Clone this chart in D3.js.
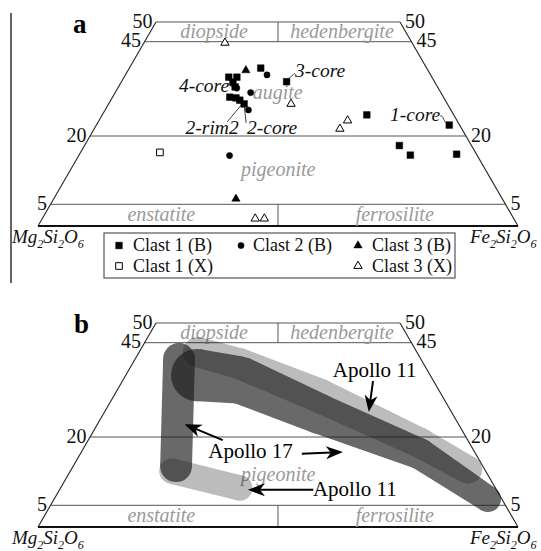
<!DOCTYPE html>
<html><head><meta charset="utf-8">
<script src="https://cdn.jsdelivr.net/npm/d3@7"></script>
<style>
body{margin:0;background:#fff}
svg{display:block}
text{font-family:"Liberation Serif","Times New Roman",serif}
</style>
</head><body>
<svg id="chart" width="541" height="551"></svg>
<script>
// ================= DATA (compositions in mol%: [Wo, Fs], En = 100-Wo-Fs) =================
const woLevels      = [0, 5, 20, 45, 50];
const boundaryWo    = [5, 20, 45, 50];
const tickLabels    = ["5", "20", "45", "50"];
const dividerBands  = [[45, 50], [0, 5]];

const mineralNames  = ["diopside", "hedenbergite", "enstatite", "ferrosilite"];
const mineralWo     = [47.5, 47.5, 2.5, 2.5];
const mineralFs     = [13.1, 39.4, 24.4, 73.1];
const innerNames    = ["augite", "pigeonite"];
const innerWo       = [31.5, 12.5];
const innerFs       = [34.2, 43.8];

const clast1B = [[35.6,21.9],[35.6,23.6],[34.3,23.4],[33.0,24.5],[30.3,24.7],[30.1,26.1],[29.5,27.2],[28.5,28.6],
                 [38.0,27.4],[34.4,34.6],[25.6,56.0],[22.9,74.9],[17.9,66.8],[15.8,70.1],[16.0,79.8]];
const clast2B = [[32.7,25.0],[31.5,28.5],[26.9,30.3],[36.2,29.6],[15.7,31.9]];
const clast3B = [[37.4,24.6],[6.2,38.1]];
const clast1X = [[16.4,16.8]];
const clast3X = [[44.7,16.7],[28.5,38.5],[21.9,52.2],[24.1,52.7],[1.7,44.4],[1.7,46.3]];

const legendLabels = ["Clast 1 (B)", "Clast 2 (B)", "Clast 3 (B)", "Clast 1 (X)", "Clast 3 (X)"];

const coreNames = ["4-core", "2-rim2", "2-core", "3-core", "1-core"];
const corePts   = [[33.0,24.5],[28.5,28.6],[28.5,28.6],[34.4,34.6],[22.9,74.9]];

// panel b fields: centre line [Wo, Fs, half-spread in Wo mol%]
const apollo11Upper = [[42.5,12.2,3.7],[39.4,22.4,3.8],[30.9,43.4,4.2],[18.7,70.8,3.7],[12.8,83.7,3.4]];
const apollo11Lower = [[12.5,21.4,3.1],[8.8,37.6,3.1]];
const apollo17Vert  = [[40.7,9.1,3.9],[13.6,21.7,3.9]];
const apollo17Diag  = [[36.4,14.9,6.4],[35.1,24.5,5.8],[26.1,45.8,4.9],[16.3,71.9,3.8],[6.4,90.7,3.2]];

const apolloTexts   = ["Apollo 11", "Apollo 17", "Apollo 11"];
const apolloTextAt  = [[35.9,43.5],[15.3,27.6],[7.0,53.8]];
const arrowFrom     = [[34.8,52.5],[19.3,28.6],[16.3,46.9],[8.4,53.2]];
const arrowTo       = [[26.6,55.9],[23.4,18.5],[16.7,55.4],[8.4,39.5]];

// ================= LAYOUT =================
const yPix = [226, 204.3, 136, 41.7, 22];
const X0 = 38, X1 = 518, TL = 156, TR = 400;
const GREY = "#9a9a9a";
const svg = d3.select("#chart");

function makePanel(dy){
  const y = d3.scaleLinear().domain(woLevels).range(yPix.map(v => v + dy));
  const base = y(0), top = y(50);
  const xl = d3.scaleLinear().domain([base, top]).range([X0, TL]);
  const xr = d3.scaleLinear().domain([base, top]).range([X1, TR]);
  const proj = (wo, fs) => { const py = y(wo), a = xl(py), b = xr(py); return [a + fs / (100 - wo) * (b - a), py]; };
  return {y, proj, dy};
}
const spreadPx = d3.scaleLinear().domain([0, 50]).range([0, 204]);

function drawFrame(P, g, withAugite, innerOffset){
  const line = (a, b, stroke, w) => g.append("line")
    .attr("x1", a[0]).attr("y1", a[1]).attr("x2", b[0]).attr("y2", b[1])
    .attr("stroke", stroke).attr("stroke-width", w);
  boundaryWo.forEach(w => line(P.proj(w, 0), P.proj(w, 100 - w), "#555", 1));
  dividerBands.forEach(([w0, w1]) => line(P.proj(w0, (100 - w0) / 2), P.proj(w1, (100 - w1) / 2), "#555", 1));
  line(P.proj(0, 0), P.proj(50, 0), "#222", 1.1);
  line(P.proj(0, 100), P.proj(50, 50), "#222", 1.1);
  line(P.proj(0, 0), P.proj(0, 100), "#111", 1.8);

  boundaryWo.forEach((w, i) => {
    const l = P.proj(w, 0), r = P.proj(w, 100 - w);
    g.append("text").attr("x", l[0] - 3.5).attr("y", l[1] + 5.5).attr("text-anchor", "end")
      .attr("font-size", 20).attr("fill", "#111").text(tickLabels[i]);
    g.append("text").attr("x", r[0] + 5).attr("y", r[1] + 5.5)
      .attr("font-size", 20).attr("fill", "#111").text(tickLabels[i]);
  });
  mineralNames.forEach((n, i) => {
    const p = P.proj(mineralWo[i], mineralFs[i]);
    g.append("text").attr("x", p[0]).attr("y", p[1] + 6).attr("text-anchor", "middle")
      .attr("font-size", 20).attr("font-style", "italic").attr("fill", GREY).text(n);
  });
  innerNames.forEach((n, i) => {
    if (!withAugite && i === 0) return;
    const p = P.proj(innerWo[i], innerFs[i]);
    g.append("text").attr("x", p[0]).attr("y", p[1] + innerOffset).attr("text-anchor", "middle")
      .attr("font-size", 20).attr("font-style", "italic").attr("fill", GREY).text(n);
  });
  const formula = (x, y, el) => {
    const t = g.append("text").attr("x", x).attr("y", y).attr("font-size", 19).attr("font-style", "italic").attr("fill", "#111");
    const parts = [[el, 0], ["2", 1], ["Si", 0], ["2", 1], ["O", 0], ["6", 1]];
    let prev = 0;
    parts.forEach(([s, sub]) => {
      t.append("tspan").attr("dy", (sub - prev) * 5).attr("font-size", sub ? 12 : 19).text(s);
      prev = sub;
    });
  };
  const bl = P.proj(0, 0), br = P.proj(0, 100);
  formula(bl[0] - 26, bl[1] + 17, "Mg");
  formula(br[0] - 48, br[1] + 17, "Fe");
}

const symbols = {
  sq: d3.symbol().type(d3.symbolSquare).size(44)(),
  ci: d3.symbol().type(d3.symbolCircle).size(30)(),
  tr: d3.symbol().type(d3.symbolTriangle).size(30)()
};
function marker(g, x, y, kind, filled){
  g.append("path").attr("d", symbols[kind]).attr("transform", `translate(${x},${y})`)
    .attr("fill", filled ? "#000" : "#fff").attr("stroke", "#000").attr("stroke-width", filled ? 0.5 : 1);
}

// ================= PANEL a =================
const A = makePanel(0);
const ga = svg.append("g");
ga.append("line").attr("x1", 11).attr("x2", 11).attr("y1", 13).attr("y2", 283).attr("stroke", "#111").attr("stroke-width", 1.3);
drawFrame(A, ga, true, 6);
ga.append("text").attr("x", 73).attr("y", 33).attr("font-size", 27).attr("font-weight", "bold").text("a");

// core labels (text offsets relative to anchor composition)
const coreLayout = [
  {anchor: "end",    dx: -6,  dy: 5,  lead: [[-8, -3], [-1, 1]], wave: true},
  {anchor: "middle", dx: -32, dy: 30, lead: [[-17, 18], [-1, -1]]},
  {anchor: "start",  dx: 3,   dy: 30, lead: [[2, 19], [0, 1]]},
  {anchor: "start",  dx: 8.5, dy: -5, lead: [[7.5, -8], [1.5, -1.5]], wave: true},
  {anchor: "end",    dx: -9,  dy: -4, lead: [[-9, -9], [-2, -2]], wave: true}
];
coreNames.forEach((n, i) => {
  const p = A.proj(corePts[i][0], corePts[i][1]), L = coreLayout[i];
  const s = [p[0] + L.lead[0][0], p[1] + L.lead[0][1]], e = [p[0] + L.lead[1][0], p[1] + L.lead[1][1]];
  const path = d3.path();
  path.moveTo(s[0], s[1]);
  if (L.wave) path.bezierCurveTo(s[0] + 3, s[1] - 2, e[0] - 3, e[1] + 1, e[0], e[1]);
  else path.lineTo(e[0], e[1]);
  ga.append("path").attr("d", path.toString()).attr("fill", "none").attr("stroke", "#111").attr("stroke-width", 0.8);
  ga.append("text").attr("x", p[0] + L.dx).attr("y", p[1] + L.dy).attr("text-anchor", L.anchor)
    .attr("font-size", 19.5).attr("font-style", "italic").attr("fill", "#111").text(n);
});

const series = [[clast1B, "sq", true], [clast2B, "ci", true], [clast3B, "tr", true], [clast1X, "sq", false], [clast3X, "tr", false]];
series.forEach(([data, kind, filled]) => data.forEach(d => { const p = A.proj(d[0], d[1]); marker(ga, p[0], p[1], kind, filled); }));

// legend
const lg = ga.append("g");
lg.append("rect").attr("x", 104).attr("y", 233).attr("width", 351).attr("height", 45)
  .attr("fill", "#fff").attr("stroke", "#555").attr("stroke-width", 1.2);
const legendPos = [[119, 245.5], [241, 245.5], [358, 245.5], [119, 266], [358, 266]];
const legendKinds = [["sq", true], ["ci", true], ["tr", true], ["sq", false], ["tr", false]];
legendLabels.forEach((t, i) => {
  const [x, y] = legendPos[i];
  marker(lg, x, y, legendKinds[i][0], legendKinds[i][1]);
  lg.append("text").attr("x", x + (i === 1 ? 12 : 14)).attr("y", y + 5.5).attr("font-size", 18).attr("fill", "#111").text(t);
});

// ================= PANEL b =================
const B = makePanel(301);
const gb = svg.append("g");
drawFrame(B, gb, false, 10);
gb.append("text").attr("x", 74).attr("y", 333).attr("font-size", 27).attr("font-weight", "bold").text("b");

function tube(g, pts, fill, opacity){
  const P = pts.map(p => { const q = B.proj(p[0], p[1]); return [q[0], q[1], spreadPx(p[2])]; });
  const grp = g.append("g").attr("opacity", opacity).attr("fill", fill);
  P.forEach(p => grp.append("circle").attr("cx", p[0]).attr("cy", p[1]).attr("r", p[2]));
  for (let i = 0; i < P.length - 1; i++){
    const a = P[i], b = P[i + 1];
    const dx = b[0] - a[0], dy = b[1] - a[1], L = Math.hypot(dx, dy), nx = -dy / L, ny = dx / L;
    grp.append("path").attr("d",
      `M${a[0] + nx * a[2]},${a[1] + ny * a[2]}L${b[0] + nx * b[2]},${b[1] + ny * b[2]}` +
      `L${b[0] - nx * b[2]},${b[1] - ny * b[2]}L${a[0] - nx * a[2]},${a[1] - ny * a[2]}Z`);
  }
}
const gl = gb.append("g");
const g11 = gl.append("g").attr("opacity", 0.26);
tube(g11, apollo11Upper, "#000", 1);
tube(g11, apollo11Lower, "#000", 1);
tube(gl, apollo17Vert, "#1c1c1c", 0.66);
tube(gl, apollo17Diag, "#1c1c1c", 0.66);

function arrow(g, tail, tip){
  const dx = tip[0] - tail[0], dy = tip[1] - tail[1], L = Math.hypot(dx, dy);
  const ux = dx / L, uy = dy / L, nx = -uy, ny = ux;
  const hl = 17, hw = 6.5, notch = 5;
  const bx = tip[0] - ux * hl, by = tip[1] - uy * hl;
  const mx = tip[0] - ux * (hl - notch), my = tip[1] - uy * (hl - notch);
  g.append("line").attr("x1", tail[0]).attr("y1", tail[1]).attr("x2", mx).attr("y2", my)
    .attr("stroke", "#000").attr("stroke-width", 2);
  g.append("path").attr("d", `M${tip[0]},${tip[1]}L${bx + nx * hw},${by + ny * hw}L${mx},${my}L${bx - nx * hw},${by - ny * hw}Z`)
    .attr("fill", "#000");
}
arrowFrom.forEach((f, i) => arrow(gb, B.proj(f[0], f[1]), B.proj(arrowTo[i][0], arrowTo[i][1])));
apolloTexts.forEach((t, i) => {
  const p = B.proj(apolloTextAt[i][0], apolloTextAt[i][1]);
  gb.append("text").attr("x", p[0]).attr("y", p[1]).attr("font-size", 21).attr("fill", "#000").text(t);
});
</script>
</body></html>
